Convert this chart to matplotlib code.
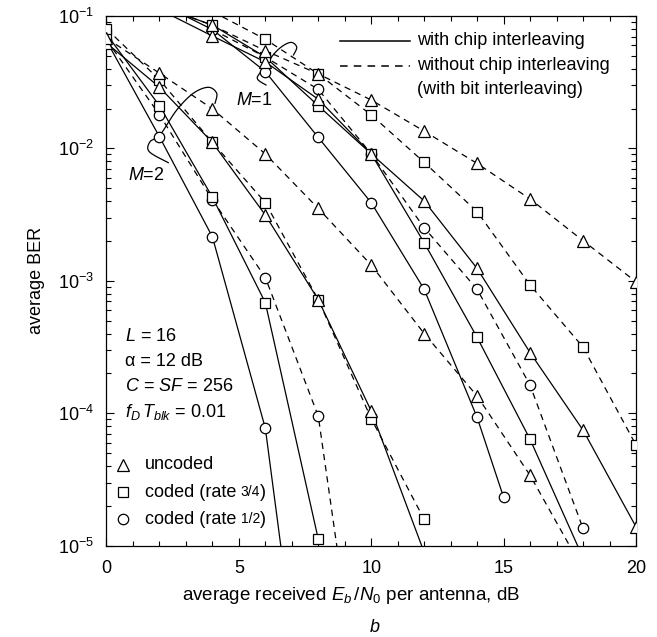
import numpy as np
import matplotlib
matplotlib.use("Agg")
import matplotlib.pyplot as plt

plt.rcParams["font.family"] = ["Liberation Sans", "DejaVu Sans"]
plt.rcParams["mathtext.fontset"] = "custom"
plt.rcParams["mathtext.rm"] = "Liberation Sans"
plt.rcParams["mathtext.it"] = "Liberation Sans:italic"
plt.rcParams["font.size"] = 13

# --- BER curves (x in dB, y = average BER) ---
# M=1, with chip interleaving (solid)
m1_chip_unc_x = [2, 4, 6, 8, 10, 12, 14, 16, 18, 20]
m1_chip_unc_y = [0.112, 0.0706, 0.045, 0.0235, 0.0091, 0.00401, 0.00124, 0.000287, 7.46e-5, 1.39e-5]
m1_chip_r34_x = [2, 4, 6, 8, 10, 12, 14, 16, 18]
m1_chip_r34_y = [0.118, 0.0855, 0.049, 0.021, 0.0091, 0.00194, 0.000374, 6.36e-5, 8.1e-6]
m1_chip_r12_x = [2, 4, 6, 8, 10, 12, 14, 15]
m1_chip_r12_y = [0.125, 0.079, 0.038, 0.0121, 0.00389, 0.000863, 9.3e-5, 2.32e-5]

# M=1, without chip interleaving (dashed)
m1_bit_unc_x = [2, 4, 6, 8, 10, 12, 14, 16, 18, 20]
m1_bit_unc_y = [0.12, 0.085, 0.0547, 0.0365, 0.0232, 0.0135, 0.0077, 0.00415, 0.00201, 0.000984]
m1_bit_r34_x = [4, 6, 8, 10, 12, 14, 16, 18, 20]
m1_bit_r34_y = [0.108, 0.0667, 0.0365, 0.0179, 0.00785, 0.00333, 0.00093, 0.000316, 5.76e-5]
m1_bit_r12_x = [4, 6, 8, 10, 12, 14, 16, 18]
m1_bit_r12_y = [0.079, 0.049, 0.0279, 0.0091, 0.00252, 0.000863, 0.000163, 1.35e-5]

# M=2, with chip interleaving (solid)
m2_chip_unc_x = [0, 2, 4, 6, 8, 10, 12]
m2_chip_unc_y = [0.0625, 0.029, 0.0111, 0.00314, 0.00072, 1.04e-4, 8.9e-6]
m2_chip_r34_x = [0, 2, 4, 6, 8]
m2_chip_r34_y = [0.073, 0.021, 0.00428, 0.000684, 1.12e-5]
m2_chip_r12_x = [0, 2, 4, 6, 8]
m2_chip_r12_y = [0.065, 0.01225, 0.00215, 7.7e-5, 7e-8]

# M=2, without chip interleaving (dashed)
m2_bit_unc_x = [0, 2, 4, 6, 8, 10, 12, 14, 16, 18]
m2_bit_unc_y = [0.068, 0.037, 0.0199, 0.00908, 0.00352, 0.001316, 0.0004, 1.35e-4, 3.4e-5, 6.6e-6]
m2_bit_r34_x = [0, 2, 4, 6, 8, 10, 12]
m2_bit_r34_y = [0.08, 0.033, 0.0111, 0.0039, 0.00072, 9.1e-5, 1.58e-5]
m2_bit_r12_x = [0, 2, 4, 6, 8, 10]
m2_bit_r12_y = [0.066, 0.018, 0.0041, 0.00106, 9.5e-5, 1.5e-7]

ymin, ymax = 1e-5, 1e-1

fig = plt.figure(figsize=(6.57, 6.37), dpi=100)
ax = fig.add_axes([0.1621, 0.1433, 0.8059, 0.8316])

DASH = (0, (5, 4))
MS = {"^": 8.5, "s": 7.5, "o": 7.5}
MZ = {"o": 3.0, "s": 3.1, "^": 3.2}


def draw(x, y, marker, ls):
    x = np.asarray(x, float)
    y = np.asarray(y, float)
    ax.plot(x, y, color="k", lw=0.9, ls=ls, zorder=2)
    vis = (y >= ymin) & (y <= ymax)
    ax.plot(x[vis], y[vis], ls="none", marker=marker, ms=MS[marker],
            mfc="white", mec="k", mew=0.9, zorder=MZ[marker])


draw(m1_chip_unc_x, m1_chip_unc_y, "^", "-")
draw(m1_chip_r34_x, m1_chip_r34_y, "s", "-")
draw(m1_chip_r12_x, m1_chip_r12_y, "o", "-")
draw(m1_bit_unc_x, m1_bit_unc_y, "^", DASH)
draw(m1_bit_r34_x, m1_bit_r34_y, "s", DASH)
draw(m1_bit_r12_x, m1_bit_r12_y, "o", DASH)
draw(m2_chip_unc_x, m2_chip_unc_y, "^", "-")
draw(m2_chip_r34_x, m2_chip_r34_y, "s", "-")
draw(m2_chip_r12_x, m2_chip_r12_y, "o", "-")
draw(m2_bit_unc_x, m2_bit_unc_y, "^", DASH)
draw(m2_bit_r34_x, m2_bit_r34_y, "s", DASH)
draw(m2_bit_r12_x, m2_bit_r12_y, "o", DASH)

ax.set_yscale("log")
ax.set_xlim(0, 20)
ax.set_ylim(ymin, ymax)
ax.set_xticks([0, 5, 10, 15, 20])
ax.set_xticks(np.arange(0, 21, 1), minor=True)
ax.tick_params(which="both", direction="in", top=True, right=True, width=0.8)
ax.tick_params(which="major", length=6)
ax.tick_params(which="minor", length=3.5)
ax.tick_params(axis="x", pad=10)
ax.tick_params(axis="y", pad=9)
for s in ax.spines.values():
    s.set_linewidth(0.9)

ax.set_xlabel("average received $E_b\\,/N_0$ per antenna, dB", fontsize=13.5)
ax.xaxis.set_label_coords(0.4617, -0.074)
ax.set_ylabel("average BER", labelpad=9)
fig.text(375 / 657, 1 - 627 / 637, "b", style="italic", ha="center", va="center")

# line-style key (top right)
ax.plot([0.441, 0.573], [0.9534, 0.9534], transform=ax.transAxes, color="k", lw=1.1)
ax.plot([0.441, 0.573], [0.906, 0.906], transform=ax.transAxes, color="k", lw=1.1, ls=DASH)
ax.text(0.5864, 0.9534, "with chip interleaving", transform=ax.transAxes, va="center")
ax.text(0.5864, 0.906, "without chip interleaving", transform=ax.transAxes, va="center")
ax.text(0.5864, 0.862, "(with bit interleaving)", transform=ax.transAxes, va="center")

# parameters
params = ["$L$ = 16", "α = 12 dB", "$C$ = $SF$ = 256", "$f_D\\,T_{blk}$ = 0.01"]
for i, p in enumerate(params):
    ax.text(0.035, 0.3946 - i * 0.0472, p, transform=ax.transAxes, va="center")

# marker key (bottom left)
key_y = [0.1524, 0.1008, 0.0504]
for yk, mk in zip(key_y, ["^", "s", "o"]):
    ax.plot([0.032], [yk], transform=ax.transAxes, ls="none", marker=mk, ms=MS[mk],
            mfc="white", mec="k", mew=0.9, clip_on=False)
ax.text(0.0727, key_y[0], "uncoded", transform=ax.transAxes, va="center")
for yk, frac in zip(key_y[1:], ["3/4", "1/2"]):
    t1 = ax.text(0.0727, yk, "coded (rate", transform=ax.transAxes, va="center")
    t2 = ax.annotate(frac, xy=(1, 0), xycoords=t1, xytext=(3, 1), textcoords="offset points",
                     fontsize=10, va="bottom")
    ax.annotate(")", xy=(1, 0), xycoords=t2, xytext=(0, -1), textcoords="offset points",
                va="bottom")

# M labels and their grouping loops
ax.text(0.2783, 0.8414, "$M$=1", transform=ax.transAxes, ha="center", va="center")
ax.text(0.0746, 0.6998, "$M$=2", transform=ax.transAxes, ha="center", va="center")


def smooth(pts, n=20):
    p = np.asarray(pts, float)
    p = np.vstack([p[0], p, p[-1]])
    out = []
    for i in range(1, len(p) - 2):
        p0, p1, p2, p3 = p[i - 1], p[i], p[i + 1], p[i + 2]
        for t in np.linspace(0, 1, n, endpoint=False):
            t2, t3 = t * t, t * t * t
            out.append(0.5 * ((2 * p1) + (-p0 + p2) * t + (2 * p0 - 5 * p1 + 4 * p2 - p3) * t2
                              + (-p0 + 3 * p1 - 3 * p2 + p3) * t3))
    out.append(p[-2])
    return np.array(out)


loop_m2 = [(0.1167, 0.7231), (0.0808, 0.7438), (0.0822, 0.7627), (0.1010, 0.7753),
           (0.1326, 0.8225), (0.1639, 0.8541), (0.1923, 0.8654), (0.2081, 0.8541),
           (0.2049, 0.8352)]
loop_m1 = [(0.3012, 0.8697), (0.2852, 0.8811), (0.2918, 0.8952), (0.3214, 0.9339),
           (0.3466, 0.9500), (0.3592, 0.9415), (0.3532, 0.9264)]
for loop in (loop_m2, loop_m1):
    c = smooth(loop)
    ax.plot(c[:, 0], c[:, 1], transform=ax.transAxes, color="k", lw=0.9)

fig.savefig("out.png", dpi=100)
